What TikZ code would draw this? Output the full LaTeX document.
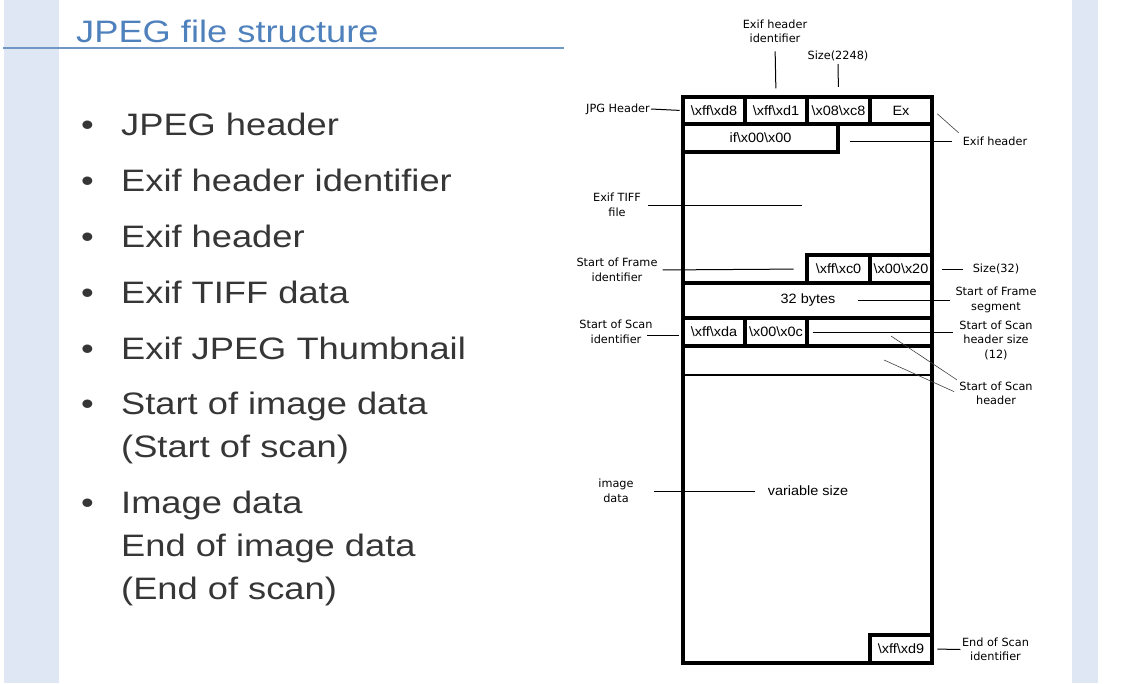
\documentclass[tikz,border=0pt]{standalone}
\usepackage{fontspec}
\setmainfont{Liberation Sans}[FakeStretch=1.17]
\newfontfamily\cellfont{Liberation Sans}[FakeStretch=1.07]
\newfontfamily\notefont{DejaVu Sans}
\usetikzlibrary{positioning}
\definecolor{bandblue}{HTML}{DEE7F3}
\definecolor{titleblue}{HTML}{4F81BD}
\definecolor{ruleblue}{HTML}{6F96C4}
\definecolor{itemgray}{HTML}{363636}
\newcommand{\bsl}{\textbackslash}

\begin{document}
\begin{tikzpicture}[x=1pt,y=-1pt,
    cell/.style={draw,line width=3.2pt,inner sep=0pt,font=\cellfont\fontsize{13.5}{16}\selectfont},
    note/.style={font=\notefont\fontsize{11.3}{14.5}\selectfont,align=center,inner sep=1pt},
    leader/.style={line width=1pt},
    slantline/.style={line width=0.6pt,black!75},
    bulletitem/.style={anchor=base west,inner sep=0pt,text=itemgray,font=\fontsize{31}{43}\selectfont}]
    \useasboundingbox (0,0) rectangle (1148,683);
    % Slide background bands
    \fill[bandblue] (4,0) rectangle (59,683);
    \fill[bandblue] (1072,0) rectangle (1098,683);
    % Title
    \node[anchor=base west,inner sep=0pt,text=titleblue,font=\fontsize{31}{36}\selectfont] (title) at (76,42) {JPEG file structure};
    \coordinate (rulel) at (3,48);
    \coordinate (ruler) at (564,48);
    \draw[ruleblue,line width=2pt] (rulel) -- (ruler);
    % Bullet list
    \foreach \yb/\txt [count=\i] in {135/JPEG header,191/Exif header identifier,247/Exif header,
        303/Exif TIFF data,359/Exif JPEG Thumbnail,414/Start of image data,513/Image data}
    {
        \node[bulletitem] (dot\i) at (81,\yb) {\textbullet};
        \node[bulletitem] (item\i) at (121,\yb) {\txt};
    }
    \node[bulletitem,below=43pt of item6.base west,anchor=base west] (item6b) {(Start of scan)};
    \node[bulletitem,below=43pt of item7.base west,anchor=base west] (item7b) {End of image data};
    \node[bulletitem,below=43pt of item7b.base west,anchor=base west] (item7c) {(End of scan)};

    % Outer frame of the file
    \node[cell,minimum width=249pt,minimum height=566pt] (frame) at (807.5,380) {};
    % JPG header and Exif header identifier row
    \node[cell,minimum width=62pt,minimum height=27pt] (c0) at (714,110.5) {\bsl xff\bsl xd8};
    \node[cell,minimum width=62pt,minimum height=27pt] (c1) at (776,110.5) {\bsl xff\bsl xd1};
    \node[cell,minimum width=63pt,minimum height=27pt] (c2) at (838.5,110.5) {\bsl x08\bsl xc8};
    \node[cell,minimum width=62pt,minimum height=27pt] (c3) at (901,110.5) {Ex};
    \node[cell,minimum width=155pt,minimum height=28pt] (ifx) at (760.5,138) {if\bsl x00\bsl x00};
    % Start of frame
    \node[cell,minimum width=63pt,minimum height=28pt] (sof1) at (838.5,269) {\bsl xff\bsl xc0};
    \node[cell,minimum width=62pt,minimum height=28pt] (sof2) at (901,269) {\bsl x00\bsl x20};
    \node[cell,minimum width=249pt,minimum height=35pt] (row32) at (807.5,300.5) {};
    \node[font=\cellfont\fontsize{13.5}{16}\selectfont,inner sep=1pt] (t32) at (808,300) {32 bytes};
    % Start of scan
    \node[cell,minimum width=62pt,minimum height=28pt] (sos1) at (714,332) {\bsl xff\bsl xda};
    \node[cell,minimum width=62pt,minimum height=28pt] (sos2) at (776,332) {\bsl x00\bsl x0c};
    \node[cell,minimum width=125pt,minimum height=28pt] (sos3) at (869.5,332) {};
    \coordinate (r5l) at (683,375);
    \coordinate (r5r) at (932,375);
    \draw[line width=2.2pt] (r5l) -- (r5r);
    % Image data and end of scan
    \node[font=\cellfont\fontsize{13.5}{16}\selectfont,inner sep=1pt] (varsz) at (808,491) {variable size};
    \node[cell,minimum width=62pt,minimum height=28pt] (eoi) at (901,649) {\bsl xff\bsl xd9};

    % Labels
    \node[note] (eid) at (775,31.5) {Exif header\\identifier};
    \node[note] (sz2248) at (838,56) {Size(2248)};
    \node[note,anchor=east] (jpgh) at (651,109) {JPG Header};
    \node[note] (exh) at (995,141) {Exif header};
    \node[note] (tiff) at (617,205) {Exif TIFF\\file};
    \node[note] (sofid) at (617,270) {Start of Frame\\identifier};
    \node[note] (sz32) at (996,269) {Size(32)};
    \node[note] (sofseg) at (996,300) {Start of Frame\\segment};
    \node[note] (sosid) at (616,332) {Start of Scan\\identifier};
    \node[note] (sossz) at (996,340) {Start of Scan\\header size\\(12)};
    \node[note] (sosh) at (996,393.5) {Start of Scan\\header};
    \node[note] (imgd) at (616,491) {image\\data};
    \node[note] (eosid) at (995.5,649.5) {End of Scan\\identifier};
    \coordinate (tiffend) at (802,205);
    \coordinate (sosidr) at (647,335);
    \coordinate (hA) at (891,336);
    \coordinate (hB) at (884,360);

    % Leader lines
    \draw[leader,shorten <=7pt,shorten >=7pt] (eid.south) -- (c1.north);
    \draw[leader,shorten <=2pt,shorten >=8.5pt] (sz2248.south) -- (c2.north);
    \draw[leader,shorten >=1.7pt] (jpgh.east) -- (c0.west);
    \draw[leader,shorten <=10pt,shorten >=10pt] (exh.west) -- (exh.west -| ifx.east);
    \draw[slantline,shorten <=5pt,shorten >=4pt] (c3.east) -- (exh.north west);
    \draw[leader,shorten <=6pt] (tiff.east) -- (tiffend);
    \draw[leader,shorten <=4pt,shorten >=11.7pt] (sofid.east) -- (sof1.west);
    \draw[leader,shorten <=8.7pt,shorten >=8.5pt] (sof2.east) -- (sz32.west);
    \draw[leader,shorten <=21pt,shorten >=4pt] (t32.east) -- (sofseg.west);
    \draw[leader,shorten >=2pt] (sosidr) -- (sosidr -| sos1.west);
    \draw[leader,shorten <=7.3pt,shorten >=5.5pt] (sos3.west) -- (sos3.west -| sossz.west);
    \draw[slantline,shorten >=1.5pt] (hA) -- (sosh.north west);
    \draw[slantline,shorten >=4.5pt] (hB) -- (sosh.west);
    \draw[leader,shorten <=19pt,shorten >=12pt] (imgd.east) -- (varsz.west);
    \draw[leader,shorten <=3.7pt,shorten >=0.5pt] (eoi.east) -- (eosid.west);
\end{tikzpicture}
\end{document}
